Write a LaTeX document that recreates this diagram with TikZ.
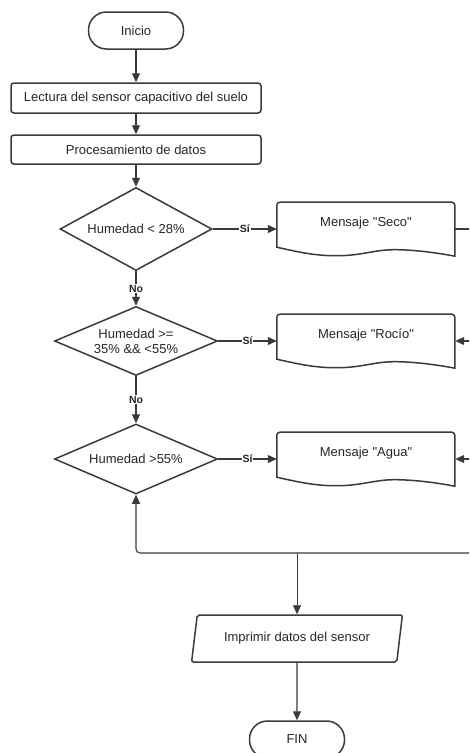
\documentclass[tikz,border=0pt]{standalone}
\usepackage{fontspec}
\setmainfont{Liberation Sans}[Ligatures=TeXOff]
\usetikzlibrary{arrows.meta}
\usetikzlibrary{shapes.geometric}
\definecolor{linea}{HTML}{3A3A3A}
\definecolor{texto}{HTML}{262626}

\begin{document}
\begin{tikzpicture}[x=1pt, y=-1pt,
    every node/.style={text=texto, font=\fontsize{13}{15}\selectfont},
    terminal/.style={draw=linea, line width=1.5pt, rectangle, rounded corners=18pt, minimum width=95pt, minimum height=37pt},
    proceso/.style={draw=linea, line width=1.5pt, rectangle, rounded corners=3pt, minimum width=250pt, minimum height=30pt, inner sep=0pt},
    decision/.style={draw=linea, line width=1.5pt, diamond, align=center, inner sep=0pt},
    documento/.style={rectangle, minimum width=178pt, minimum height=54pt, text height=9pt, text depth=14pt, inner sep=0pt},
    entrada/.style={draw=linea, line width=1.5pt, trapezium, trapezium left angle=77, trapezium right angle=103, trapezium stretches=true, rounded corners=2pt, minimum width=211pt, minimum height=47pt},
    flecha/.style={draw=linea, line width=1.1pt, -{Triangle[length=9pt,width=8pt]}},
    conector/.style={draw=linea, line width=1.1pt},
    etiqueta/.style={fill=white, inner sep=1pt, font=\bfseries\fontsize{10.5}{12}\selectfont}]

    \useasboundingbox (0,0) rectangle (469,753);
    \clip (0,0) rectangle (469,753);

    \node[terminal] (inicio) at (136,30.5) {Inicio};
    \node[proceso] (lectura) at (136,98) {Lectura del sensor capacitivo del suelo};
    \node[proceso, minimum height=29pt] (proc) at (136,149.5) {Procesamiento de datos};

    \node[decision, aspect=1.83, minimum width=152pt, minimum height=83pt] (d1) at (136,229) {Humedad < 28\%};
    \node[decision, aspect=2.36, minimum width=163pt, minimum height=69pt] (d2) at (136,341) {Humedad >=\\35\% \&\& <55\%};
    \node[decision, aspect=2.33, minimum width=163pt, minimum height=70pt] (d3) at (136,459) {Humedad >55\%};

    \node[documento] (seco) at (366,229) {Mensaje "Seco"};
    \node[documento] (rocio) at (366,341) {Mensaje "Rocío"};
    \node[documento] (agua) at (366,459) {Mensaje "Agua"};

    % forma de documento con borde ondulado
    \foreach \n in {seco,rocio,agua}
        \draw[draw=linea, line width=1.5pt, shift={(\n.south west)}]
            (0,-9) [rounded corners=3pt] -- (0,-54) -- (178,-54) [sharp corners] -- (178,0)
            .. controls (163,-3) and (138,-6.5) .. (118,-6.5)
            .. controls (98,-6.5) and (86,-1) .. (63,-0.5)
            .. controls (40,0) and (22,-4) .. cycle;

    \node[entrada] (imp) at (297,638.5) {Imprimir datos del sensor};
    \node[terminal] (fin) at (297,739.5) {FIN};

    \coordinate (busA) at (472,229);
    \coordinate (busB) at (472,341);
    \coordinate (busC) at (472,459);
    \coordinate (busD) at (472,553);
    \coordinate (union) at (297,553);

    \draw[flecha] (inicio) -- (lectura);
    \draw[flecha] (lectura) -- (proc);
    \draw[flecha] (proc) -- (d1);
    \draw[flecha] (d1.east) -- node[etiqueta] {Sí} (seco.west);
    \draw[flecha] (d1.south) -- node[etiqueta] {No} (d2.north);
    \draw[flecha] (d2.east) -- node[etiqueta] {Sí} (rocio.west);
    \draw[flecha] (d2.south) -- node[etiqueta] {No} (d3.north);
    \draw[flecha] (d3.east) -- node[etiqueta] {Sí} (agua.west);

    \draw[conector] (seco.east) -- (busA);
    \draw[flecha] (busB) -- (rocio.east);
    \draw[flecha] (busC) -- (agua.east);
    \draw[flecha, rounded corners=4pt] (busD) -| (d3.south);
    \draw[flecha, line width=0.9pt] (union) -- (union |- imp.north);
    \draw[flecha] (imp.south) -- (fin.north);
\end{tikzpicture}
\end{document}
